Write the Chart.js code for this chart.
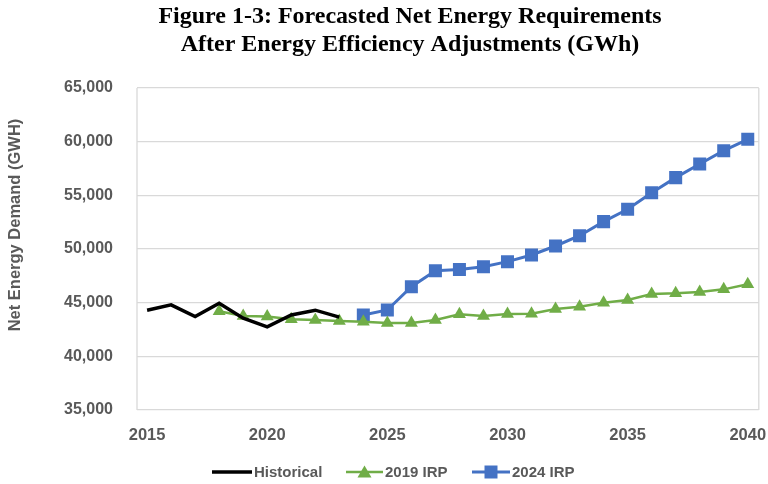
<!DOCTYPE html>
<html>
<head>
<meta charset="utf-8">
<script src="https://cdn.jsdelivr.net/npm/chart.js@4.4.1/dist/chart.umd.min.js"></script>
<style>
  html, body { margin: 0; padding: 0; background: #ffffff; }
  #wrap { width: 768px; height: 484px; }
</style>
</head>
<body>
<div id="wrap"><canvas id="c" width="768" height="484"></canvas></div>
<script>
// ---- data ----
const titleLines = ["Figure 1-3: Forecasted Net Energy Requirements", "After Energy Efficiency Adjustments (GWh)"];
const yAxisTitle = "Net Energy Demand (GWH)";
const xTickYears = [2015, 2020, 2025, 2030, 2035, 2040];
const yTickValues = [35000, 40000, 45000, 50000, 55000, 60000, 65000];

const histYears  = [2015, 2016, 2017, 2018, 2019, 2020, 2021, 2022, 2023];
const histValues = [44300, 44800, 43700, 44950, 43550, 42750, 43850, 44300, 43650];

const irp2019Years  = [2018, 2019, 2020, 2021, 2022, 2023, 2024, 2025, 2026, 2027, 2028, 2029, 2030, 2031, 2032, 2033, 2034, 2035, 2036, 2037, 2038, 2039, 2040];
const irp2019Values = [44200, 43750, 43700, 43450, 43380, 43290, 43230, 43100, 43100, 43380, 43910, 43760, 43940, 43970, 44410, 44620, 45000, 45250, 45810, 45870, 45990, 46240, 46710];

const irp2024Years  = [2024, 2025, 2026, 2027, 2028, 2029, 2030, 2031, 2032, 2033, 2034, 2035, 2036, 2037, 2038, 2039, 2040];
const irp2024Values = [43850, 44320, 46490, 47980, 48100, 48350, 48820, 49440, 50280, 51240, 52550, 53700, 55250, 56650, 57920, 59160, 60220];

const seriesNames = ["Historical", "2019 IRP", "2024 IRP"];
const seriesColors = ["#000000", "#70ad47", "#4472c4"];

function pts(xs, ys) { return xs.map((x, i) => ({ x: x, y: ys[i] })); }

const FONT = "'Liberation Sans', 'DejaVu Sans', sans-serif";
const GRAY = "#595959";
const GRID = "#d9d9d9";

// ---- plugins ----
const textPlugin = {
  id: 'customText',
  afterDraw(chart) {
    const ctx = chart.ctx;
    ctx.save();
    ctx.fillStyle = "#000000";
    ctx.font = "bold 24px 'Liberation Serif', 'DejaVu Serif', serif";
    ctx.textAlign = "center";
    ctx.textBaseline = "middle";
    ctx.fillText(titleLines[0], 410, 17);
    ctx.fillText(titleLines[1], 410, 45);
    ctx.restore();

    ctx.save();
    ctx.translate(15, 225);
    ctx.rotate(-Math.PI / 2);
    ctx.fillStyle = GRAY;
    ctx.font = "bold 16.5px " + FONT;
    ctx.textAlign = "center";
    ctx.textBaseline = "middle";
    ctx.fillText(yAxisTitle, 0, 0);
    ctx.restore();
  }
};

const borderPlugin = {
  id: 'areaBorder',
  beforeDatasetsDraw(chart) {
    const a = chart.chartArea, ctx = chart.ctx;
    ctx.save();
    ctx.strokeStyle = GRID;
    ctx.lineWidth = 1.3;
    ctx.beginPath();
    ctx.moveTo(a.left, a.top); ctx.lineTo(a.left, a.bottom);
    ctx.moveTo(a.right, a.top); ctx.lineTo(a.right, a.bottom);
    ctx.stroke();
    ctx.restore();
  }
};

function drawMarker(ctx, style, x, y, color) {
  ctx.fillStyle = color;
  ctx.beginPath();
  if (style === 'rect') {
    ctx.rect(x - 6.5, y - 6.5, 13, 13);
  } else if (style === 'triangle') {
    ctx.moveTo(x, y - 6.5);
    ctx.lineTo(x + 7, y + 5.5);
    ctx.lineTo(x - 7, y + 5.5);
    ctx.closePath();
  }
  ctx.fill();
}

const legendPlugin = {
  id: 'customLegend',
  afterDraw(chart) {
    const ctx = chart.ctx;
    const y = 472;
    const items = [
      { name: seriesNames[0], color: seriesColors[0], x0: 212, x1: 252, w: 3.5, marker: null },
      { name: seriesNames[1], color: seriesColors[1], x0: 346, x1: 383, w: 2.5, marker: 'triangle' },
      { name: seriesNames[2], color: seriesColors[2], x0: 472, x1: 510, w: 3, marker: 'rect' }
    ];
    ctx.save();
    ctx.font = "bold 15px " + FONT;
    ctx.textBaseline = "middle";
    ctx.textAlign = "left";
    items.forEach(it => {
      ctx.strokeStyle = it.color;
      ctx.lineWidth = it.w;
      ctx.beginPath();
      ctx.moveTo(it.x0, y); ctx.lineTo(it.x1, y);
      ctx.stroke();
      if (it.marker) drawMarker(ctx, it.marker, (it.x0 + it.x1) / 2, y, it.color);
      ctx.fillStyle = GRAY;
      ctx.fillText(it.name, it.x1 + 2, y + 1);
    });
    ctx.restore();
  }
};

// ---- chart ----
new Chart(document.getElementById('c'), {
  type: 'line',
  data: {
    datasets: [
      {
        label: seriesNames[0],
        data: pts(histYears, histValues),
        borderColor: seriesColors[0],
        borderWidth: 3.5,
        pointRadius: 0,
        tension: 0
      },
      {
        label: seriesNames[1],
        data: pts(irp2019Years, irp2019Values),
        borderColor: seriesColors[1],
        backgroundColor: seriesColors[1],
        borderWidth: 2.5,
        pointStyle: 'triangle',
        pointRadius: 7.5,
        pointBorderWidth: 0,
        tension: 0
      },
      {
        label: seriesNames[2],
        data: pts(irp2024Years, irp2024Values),
        borderColor: seriesColors[2],
        backgroundColor: seriesColors[2],
        borderWidth: 3,
        pointStyle: 'rect',
        pointRadius: 9.2,
        pointBorderWidth: 0,
        tension: 0
      }
    ]
  },
  options: {
    responsive: false,
    animation: false,
    devicePixelRatio: 1,
    layout: { padding: { top: 88, right: 9, left: 0, bottom: 0 } },
    plugins: {
      legend: { display: false },
      title: { display: false },
      tooltip: { enabled: false }
    },
    scales: {
      x: {
        type: 'linear',
        min: 2014.58,
        max: 2040.46,
        afterBuildTicks(scale) { scale.ticks = xTickYears.map(v => ({ value: v })); },
        afterFit(scale) { scale.height = 74; scale.paddingLeft = 0; scale.paddingRight = 0; },
        grid: { display: false, drawTicks: false },
        border: { display: false },
        ticks: {
          color: GRAY,
          font: { family: FONT, size: 16.5, weight: 'bold' },
          padding: 16,
          maxRotation: 0,
          autoSkip: false,
          callback: v => String(v)
        }
      },
      y: {
        min: 35000,
        max: 65000,
        afterBuildTicks(scale) { scale.ticks = yTickValues.map(v => ({ value: v })); },
        afterFit(scale) { scale.width = 137; scale.paddingTop = 0; scale.paddingBottom = 0; },
        grid: { color: GRID, lineWidth: 1.3, drawTicks: false },
        border: { display: false },
        ticks: {
          color: GRAY,
          font: { family: FONT, size: 16, weight: 'bold' },
          padding: 24,
          callback: v => v.toLocaleString('en-US')
        }
      }
    }
  },
  plugins: [textPlugin, borderPlugin, legendPlugin]
});
</script>
</body>
</html>
